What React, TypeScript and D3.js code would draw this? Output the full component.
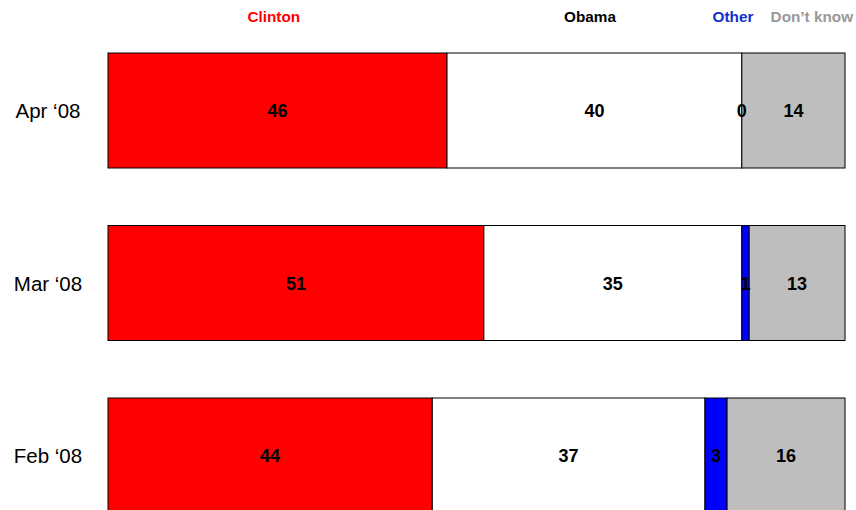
import React from "react";
import * as d3 from "d3";

const periods = ["Apr \u201808", "Mar \u201808", "Feb \u201808"];
const seriesNames = ["Clinton", "Obama", "Other", "Don\u2019t know"];
const clinton = [46, 51, 44];
const obama = [40, 35, 37];
const other = [0, 1, 3];
const dontKnow = [14, 13, 16];
const fills = ["#FF0000", "#FFFFFF", "#0000FF", "#BEBEBE"];
const headerColors = ["#FF0000", "#000000", "#1030CC", "#999999"];
const headerPos = [22.5, 65.4, 84.8, 95.5];

export default function App() {
  const W = 856, H = 510;
  const x = d3.scaleLinear().domain([0, 100]).range([108, 845]);
  const y = d3.scaleBand().domain(periods).range([53, 513]).paddingInner(1 / 3).paddingOuter(0);
  const values = [clinton, obama, other, dontKnow];
  const font = "Liberation Sans, Arial, Helvetica, sans-serif";
  const bw = y.bandwidth();
  return (
    <svg width={W} height={H} style={{ position: "absolute", left: 0, top: 0 }} fontFamily={font}>
      <rect width={W} height={H} fill="#fff" />
      {seriesNames.map((s, i) => (
        <text key={s} x={x(headerPos[i])} y={22} textAnchor="middle" fontSize={15.3} fontWeight="bold" fill={headerColors[i]}>
          {s}
        </text>
      ))}
      {periods.map((p, r) => {
        let cum = 0;
        const y0 = y(p)!;
        return (
          <g key={p}>
            <text x={48} y={y0 + bw / 2 + 7.5} textAnchor="middle" fontSize={20.5} fill="#000">
              {p}
            </text>
            {values.map((v, i) => {
              const start = cum;
              cum += v[r];
              return (
                <rect key={i} x={x(start)} y={y0} width={x(cum) - x(start)} height={bw} fill={fills[i]} stroke="#000" strokeWidth={1} />
              );
            })}
            {(() => {
              let c = 0;
              return values.map((v, i) => {
                const mid = c + v[r] / 2;
                c += v[r];
                return (
                  <text key={"t" + i} x={x(mid)} y={y0 + bw / 2 + 6.5} textAnchor="middle" fontSize={18} fontWeight="bold" fill="#000">
                    {v[r]}
                  </text>
                );
              });
            })()}
          </g>
        );
      })}
    </svg>
  );
}
